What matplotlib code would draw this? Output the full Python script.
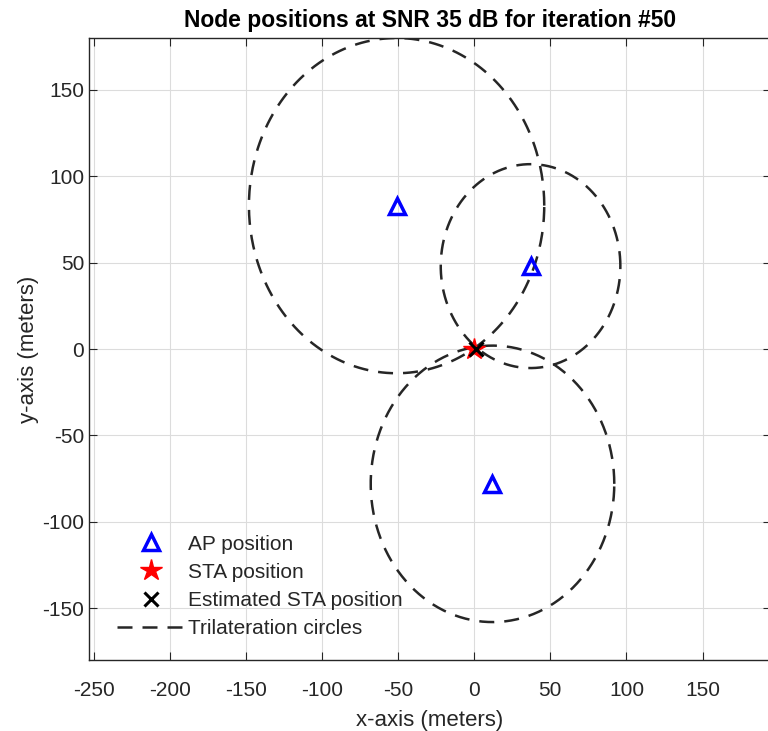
import numpy as np
import matplotlib
matplotlib.use("Agg")
import matplotlib.pyplot as plt

plt.rcParams['font.family'] = ['Liberation Sans', 'DejaVu Sans']
plt.rcParams['axes.unicode_minus'] = False

# Data
ap_x = [-51, 37, 12]
ap_y = [83, 48, -78]
circle_r = [97, 59, 80]
sta_pos = (0, 0)
est_pos = (1, 0)
x_ticks = [-250, -200, -150, -100, -50, 0, 50, 100, 150]
y_ticks = [-150, -100, -50, 0, 50, 100, 150]

fig = plt.figure(figsize=(7.68, 7.31), dpi=100)
ax = fig.add_axes([0.116, 0.097, 0.888, 0.851])

theta = np.linspace(0, 2 * np.pi, 400)
for i, (cx, cy, r) in enumerate(zip(ap_x, ap_y, circle_r)):
    ax.plot(cx + r * np.cos(theta), cy + r * np.sin(theta), color='#262626',
            lw=1.8, dashes=(6, 4), label='Trilateration circles' if i == 0 else None, zorder=2)

ax.plot(ap_x, ap_y, linestyle='none', marker='^', markersize=12, markerfacecolor='none',
        markeredgecolor='#0000ff', markeredgewidth=2.5, label='AP position', zorder=3)
ax.plot([sta_pos[0]], [sta_pos[1]], linestyle='none', marker='*', markersize=16,
        color='#ff0000', label='STA position', zorder=3)
ax.plot([est_pos[0]], [est_pos[1]], linestyle='none', marker='x', markersize=10,
        markeredgewidth=2.2, color='black', label='Estimated STA position', zorder=4)

ax.set_xlim(-253, 195)
ax.set_ylim(-180, 180)
ax.set_xticks(x_ticks)
ax.set_yticks(y_ticks)
ax.grid(True, color='#dcdcdc', lw=0.8)
ax.set_axisbelow(True)
ax.tick_params(direction='in', top=True, right=True, length=6, labelsize=15,
               colors='#262626', labelcolor='#262626')
ax.tick_params(axis='x', pad=15)
for s in ax.spines.values():
    s.set_color('#262626')
    s.set_linewidth(1.0)

ax.set_xlabel('x-axis (meters)', fontsize=16, color='#262626', labelpad=7)
ax.set_ylabel('y-axis (meters)', fontsize=16, color='#262626', labelpad=2)
ax.set_title('Node positions at SNR 35 dB for iteration #50', fontsize=16.5,
             fontweight='bold', pad=8)

h, l = ax.get_legend_handles_labels()
order = [1, 2, 3, 0]
leg = ax.legend([h[i] for i in order], [l[i] for i in order], loc='lower left',
                bbox_to_anchor=(0.02, 0.012), frameon=False, fontsize=15,
                handlelength=3.2, handletextpad=0.2, labelspacing=0.44,
                borderpad=0.2)
for t in leg.get_texts():
    t.set_color('#262626')

fig.savefig('out.png', dpi=100)
